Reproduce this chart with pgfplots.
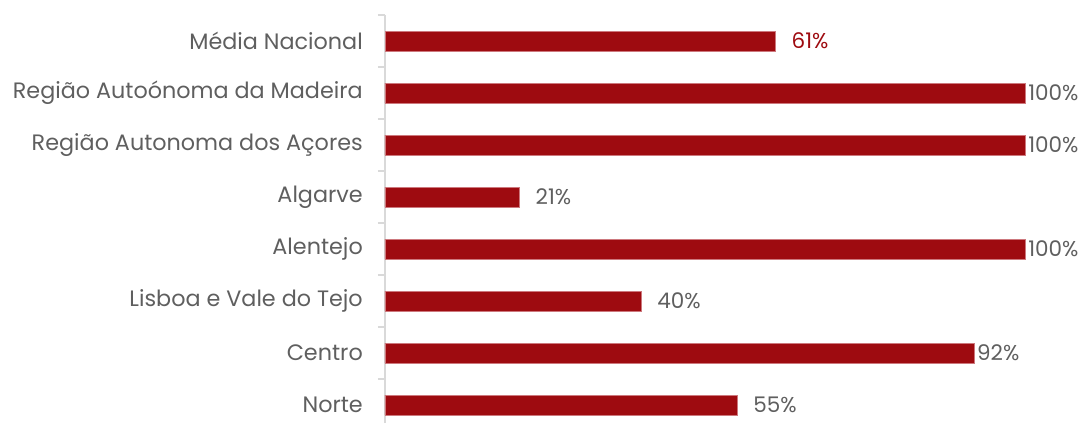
\documentclass[border=0pt]{standalone}
\usepackage{fontspec}
\setmainfont{Poppins}
\usepackage{pgfplots}
\usepackage{pgfplotstable}
\pgfplotsset{compat=1.18}
\definecolor{barred}{RGB}{158,11,16}
\definecolor{baredge}{RGB}{205,120,125}
\definecolor{txtgray}{RGB}{95,95,95}
\definecolor{axgray}{RGB}{217,217,217}
\pgfplotstableread{
y x off
6 100 3
5 100 3
4 21 16
3 100 3
2 40 16
1 92 3
0 55 16
}\regions
\pgfplotstableread{
y x off
7 61 16
}\media
\begin{document}
\begin{tikzpicture}[x=1pt,y=1pt]
\begin{axis}[
  scale only axis,
  width=640pt, height=408pt,
  xbar, bar width=20pt, bar shift=0pt,
  xmin=0, xmax=100,
  ymin=-0.346, ymax=7.5,
  axis x line=none,
  axis y line*=left,
  y axis line style={draw=axgray, line width=1.5pt},
  ytick={0,...,7},
  yticklabels={Norte,Centro,Lisboa e Vale do Tejo,Alentejo,Algarve,Região Autonoma dos Açores,Região Autoónoma da Madeira,Média Nacional},
  major tick length=0pt,
  y tick label style={font=\fontsize{22.3}{25}\selectfont, text=txtgray, inner sep=0pt, xshift=-22pt},
  extra y ticks={-0.5,0.5,...,7.5},
  extra y tick labels={},
  extra y tick style={major tick length=7pt, tick align=outside, tick style={draw=axgray, line width=1.3pt}},
  nodes near coords={\pgfmathprintnumber[assume math mode=true]{\pgfplotspointmeta}\%},
  point meta=x,
  visualization depends on={\thisrow{off}\as\off},
  every node near coord/.append style={anchor=west, inner sep=0pt, xshift=\off pt, font=\fontsize{21.5}{24}\selectfont},
  clip=false,
]
\addplot[fill=barred, draw=baredge, line width=0.6pt, every node near coord/.append style={text=barred}] table[x=x,y=y] {\media};
\addplot[fill=barred, draw=baredge, line width=0.6pt, every node near coord/.append style={text=txtgray}] table[x=x,y=y] {\regions};
\end{axis}
\pgfresetboundingbox
\path[use as bounding box] ([xshift=-385pt]current axis.south west) rectangle ++(1083pt,423pt);
\end{tikzpicture}
\end{document}
